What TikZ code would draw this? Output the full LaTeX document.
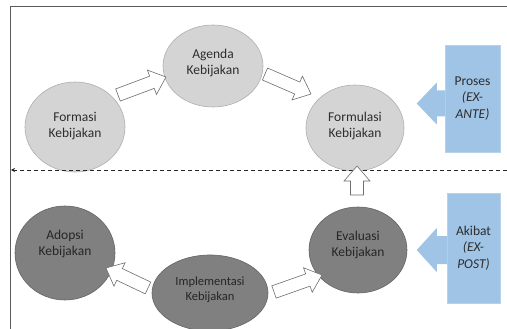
\documentclass[tikz,border=0pt]{standalone}
\usepackage{fontspec}
\setmainfont{Carlito}
\usetikzlibrary{calc,arrows.meta,shapes.geometric}
\definecolor{lightfill}{RGB}{212,212,212}
\definecolor{lightline}{RGB}{175,175,175}
\definecolor{darkfill}{RGB}{128,128,128}
\definecolor{darkline}{RGB}{100,100,100}
\definecolor{bluefill}{RGB}{160,196,230}
\definecolor{blueline}{RGB}{185,210,235}
\definecolor{frameline}{RGB}{90,90,90}
\definecolor{txt}{RGB}{45,45,45}
\definecolor{arrline}{RGB}{110,110,110}
\tikzset{
  lightell/.style={ellipse, fill=lightfill, draw=lightline, line width=0.6pt, inner sep=0pt},
  darkell/.style={ellipse, fill=darkfill, draw=darkline, line width=0.6pt, inner sep=0pt},
  lighttxt/.style={text=txt, align=center, font=\fontsize{13.5}{16}\selectfont},
  darktxt/.style={text=black!85, align=center, font=\fontsize{13.5}{16}\selectfont},
  bluebox/.style={rectangle, fill=bluefill, draw=blueline, line width=0.5pt, text=txt, align=center, inner sep=0pt, font=\fontsize{13.5}{16.5}\selectfont},
  barrow/.style={fill=white, draw=arrline, line width=0.6pt, line join=miter},
  bluearrow/.style={fill=bluefill, draw=none},
  framestyle/.style={draw=frameline, line width=1pt},
  dashline/.style={draw=black!85, line width=0.9pt, dash pattern=on 4pt off 3pt, -{Stealth[length=4pt,width=4pt]}}
}
\newcommand{\blockarr}[3]{%
  \coordinate (#3h) at ($(#2)!15pt!(#1)$);
  \draw[barrow] ($(#1)!6.5pt!90:(#2)$) -- ($(#3h)!6.5pt!90:(#2)$) -- ($(#3h)!13pt!90:(#2)$) -- (#2)
     -- ($(#3h)!13pt!-90:(#2)$) -- ($(#3h)!6.5pt!-90:(#2)$) -- ($(#1)!6.5pt!-90:(#2)$) -- cycle;
}
\begin{document}
\begin{tikzpicture}[x=1pt,y=-1pt]
\useasboundingbox (0,0) rectangle (507,329);
\fill[white] (0,0) rectangle (507,329);
% frame
\coordinate (fc) at (10,7);
\coordinate (fr) at (507,7);
\coordinate (fb) at (10,329);
\draw[framestyle] (fr) -- (fc) -- (fb);

% ellipses
\node[lightell, minimum width=100pt, minimum height=90pt] (formasi) at (75,127) {};
\node[lighttxt] (formasiT) at (75,126) {Formasi\\Kebijakan};
\node[lightell, minimum width=100pt, minimum height=82pt] (agenda) at (213,66) {};
\node[lighttxt] (agendaT) at (213,63) {Agenda\\Kebijakan};
\node[lightell, minimum width=98pt, minimum height=86pt] (formulasi) at (355,128) {};
\node[lighttxt] (formulasiT) at (355,126) {Formulasi\\Kebijakan};

\node[darkell, minimum width=100pt, minimum height=94pt] (adopsi) at (65,253) {};
\node[darktxt] (adopsiT) at (65,244) {Adopsi\\Kebijakan};
\node[darkell, minimum width=116pt, minimum height=76pt] (impl) at (210,293) {};
\node[darktxt, font=\fontsize{12.5}{15}\selectfont] (implT) at (210,290) {Implementasi\\Kebijakan};
\node[darkell, minimum width=98pt, minimum height=86pt] (evaluasi) at (358,250) {};
\node[darktxt] (evaluasiT) at (358,245) {Evaluasi\\Kebijakan};

% dashed separator
\coordinate (dR) at (507,170);
\coordinate (dL) at (11,170);
\draw[dashline] (dR) -- (dL);

% block arrows
\coordinate (a1t) at (118,95);  \coordinate (a1h) at (166,77);
\coordinate (a2t) at (265,74);  \coordinate (a2h) at (311,94);
\coordinate (a3t) at (357,195); \coordinate (a3h) at (357,166);
\coordinate (a4t) at (148,288); \coordinate (a4h) at (106,268);
\coordinate (a5t) at (274,292); \coordinate (a5h) at (322,275);
\blockarr{a1t}{a1h}{b1}
\blockarr{a2t}{a2h}{b2}
\blockarr{a3t}{a3h}{b3}
\blockarr{a4t}{a4h}{b4}
\blockarr{a5t}{a5h}{b5}

% blue boxes with arrows
\node[bluebox, minimum width=55pt, minimum height=107pt] (proses) at (472.5,98.5) {Proses\\\textit{(EX-}\\\textit{ANTE)}};
\node[bluebox, minimum width=53pt, minimum height=110pt] (akibat) at (473.5,248) {Akibat\\\textit{(EX-}\\\textit{POST)}};
\coordinate (pa) at ($(proses.west)+(0,5)$);
\fill[bluearrow] ($(pa)+(0.6,-13)$) -- ($(pa)+(-8,-13)$) -- ($(pa)+(-8,-21)$) -- ($(pa)+(-28,0)$)
  -- ($(pa)+(-8,21)$) -- ($(pa)+(-8,13)$) -- ($(pa)+(0.6,13)$) -- cycle;
\coordinate (ka) at ($(akibat.west)+(0,2)$);
\fill[bluearrow] ($(ka)+(0.6,-14)$) -- ($(ka)+(-10,-14)$) -- ($(ka)+(-10,-22)$) -- ($(ka)+(-30,0)$)
  -- ($(ka)+(-10,22)$) -- ($(ka)+(-10,14)$) -- ($(ka)+(0.6,14)$) -- cycle;
\end{tikzpicture}
\end{document}
